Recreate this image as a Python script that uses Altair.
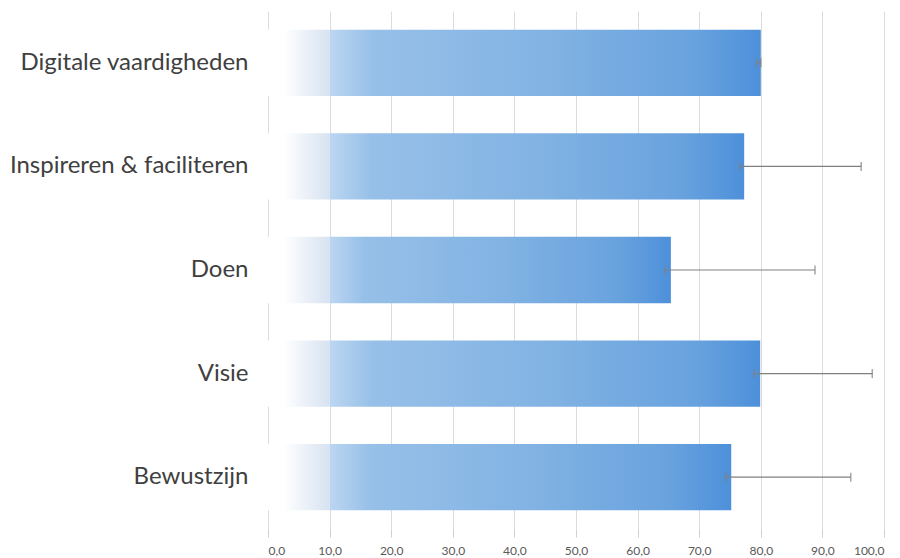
import altair as alt
import pandas as pd

categories = ["Digitale vaardigheden", "Inspireren & faciliteren", "Doen", "Visie", "Bewustzijn"]
values = [80.0, 77.3, 65.4, 79.9, 75.2]
err_low = [79.3, 76.6, 64.4, 78.9, 74.3]
err_high = [80.0, 96.3, 88.8, 98.1, 94.6]
fade_start = [0.0, 0.0, 0.0, 0.0, 0.0]
bar_start = [10.0, 10.0, 10.0, 10.0, 10.0]
ticks = [0, 10, 20, 30, 40, 50, 60, 70, 80, 90, 100]

df = pd.DataFrame({
    "cat": categories,
    "value": values,
    "lo": err_low,
    "hi": err_high,
    "s0": fade_start,
    "s1": bar_start,
})

y_enc = alt.Y("cat:N", sort=categories, title=None,
              scale=alt.Scale(paddingInner=0.36, paddingOuter=0.18),
              axis=alt.Axis(labelFont="Lato", labelFontSize=24, labelColor="#404040",
                            labelPadding=20, ticks=False, domain=False, labelLimit=300))
x_scale = alt.Scale(domain=[0, 100], nice=False)
x_axis = alt.Axis(values=ticks, title=None, grid=True, gridColor="#dcdcdc",
                  domain=False, ticks=True, tickColor="#d0d0d0", tickSize=8,
                  labelFont="Lato", labelFontSize=12, labelColor="#595959", labelPadding=8,
                  labelExpr="replace(format(datum.value, '.1f'), '.', ',')")

fade = alt.Chart(df).mark_bar(
    color=alt.Gradient(gradient="linear", x1=0, x2=1, y1=0, y2=0,
                       stops=[alt.GradientStop(offset=0, color="#ffffff"),
                              alt.GradientStop(offset=0.25, color="#ffffff"),
                              alt.GradientStop(offset=1, color="#d7e2f1")])
).encode(
    x=alt.X("s0:Q", scale=x_scale, axis=x_axis),
    x2="s1:Q",
    y=y_enc,
)

bars = alt.Chart(df).mark_bar(
    color=alt.Gradient(gradient="linear", x1=0, x2=1, y1=0, y2=0,
                       stops=[alt.GradientStop(offset=0, color="#bcd6f1"),
                              alt.GradientStop(offset=0.1, color="#97c0e8"),
                              alt.GradientStop(offset=0.5, color="#82b3e3"),
                              alt.GradientStop(offset=0.85, color="#68a2de"),
                              alt.GradientStop(offset=1, color="#4d90da")])
).encode(
    x=alt.X("s1:Q", scale=x_scale, axis=x_axis),
    x2="value:Q",
    y=y_enc,
)

rule = alt.Chart(df).mark_rule(color="#808080", strokeWidth=1.2).encode(
    x=alt.X("lo:Q", scale=x_scale),
    x2="hi:Q",
    y=alt.Y("cat:N", sort=categories),
)

caps_hi = alt.Chart(df).mark_tick(color="#808080", thickness=1.5, size=9).encode(
    x=alt.X("hi:Q", scale=x_scale),
    y=alt.Y("cat:N", sort=categories),
)
caps_lo = alt.Chart(df).mark_tick(color="#808080", thickness=1.5, size=9).encode(
    x=alt.X("lo:Q", scale=x_scale),
    y=alt.Y("cat:N", sort=categories),
)

chart = alt.layer(fade, bars, rule, caps_hi, caps_lo).properties(
    width=616, height=518,
    autosize=alt.AutoSizeParams(type="none"),
    padding={"left": 260, "top": 3, "right": 8, "bottom": 30},
).configure_view(stroke=None)

chart.save("out.html", embed_options={"renderer": "svg", "actions": False})
